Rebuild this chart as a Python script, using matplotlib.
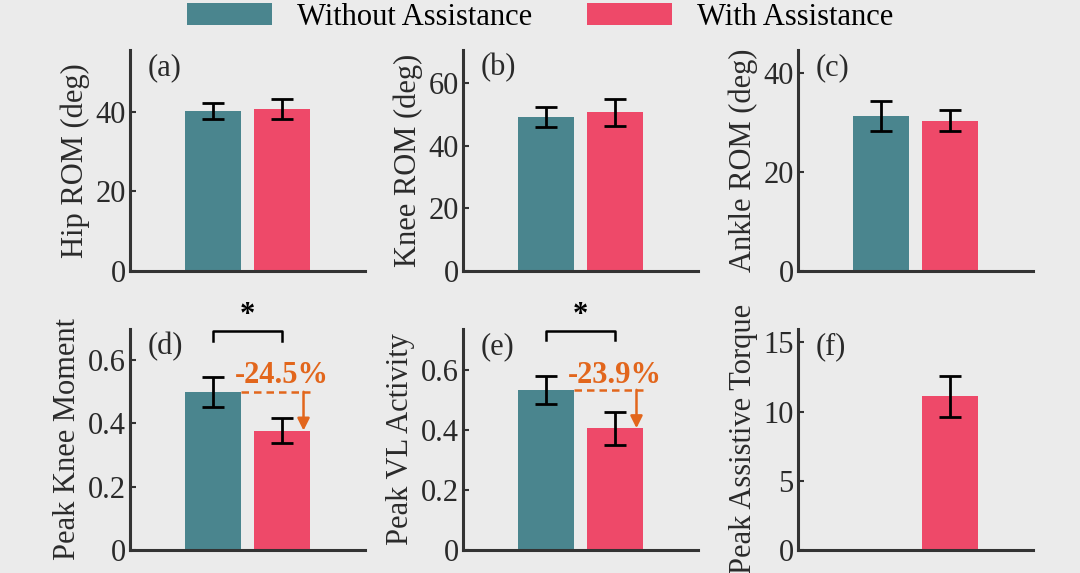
import matplotlib
matplotlib.use("Agg")
import matplotlib.pyplot as plt
from matplotlib.patches import Patch

plt.rcParams['font.family'] = ['Liberation Serif', 'DejaVu Serif']

teal = '#4a858e'
red = '#ee4969'
orange = '#e2661c'
bg = '#ebebeb'
dark = '#333333'

labels = ['Without Assistance', 'With Assistance']
panel_tags = ['(a)', '(b)', '(c)', '(d)', '(e)', '(f)']
ylabels = ['Hip ROM (deg)', 'Knee ROM (deg)', 'Ankle ROM (deg)',
           'Peak Knee Moment', 'Peak VL Activity', 'Peak Assistive Torque']

# means / std per panel: [without, with]
means = [[40.2, 40.7], [49.2, 50.6], [31.3, 30.3],
         [0.50, 0.3775], [0.535, 0.407], [None, 11.1]]
errs = [[2.0, 2.5], [3.3, 4.2], [3.1, 2.1],
        [0.047, 0.039], [0.047, 0.055], [None, 1.5]]
ylims = [55.6, 70.7, 44.7, 0.70, 0.74, 16.0]
yticks = [[0, 20, 40], [0, 20, 40, 60], [0, 20, 40],
          [0, 0.2, 0.4, 0.6], [0, 0.2, 0.4, 0.6], [0, 5, 10, 15]]
ytl = [['0', '20', '40'], ['0', '20', '40', '60'], ['0', '20', '40'],
       ['0', '0.2', '0.4', '0.6'], ['0', '0.2', '0.4', '0.6'], ['0', '5', '10', '15']]
changes = {3: '-24.5%', 4: '-23.9%'}
star_y = {3: 0.692, 4: 0.733}
leg_drop = {3: 0.032, 4: 0.033}
pct_y = {3: 0.55, 4: 0.583}

fs = 22

fig = plt.figure(figsize=(10.8, 5.73), dpi=100, facecolor=bg)

lefts = [0.1204, 0.4287, 0.7389]
bottoms = [0.527, 0.0401]
w, h = 0.2176, 0.3866

for i in range(6):
    ax = fig.add_axes([lefts[i % 3], bottoms[i // 3], w, h])
    ax.set_facecolor(bg)
    xs = [1, 2]
    for j in range(2):
        if means[i][j] is None:
            continue
        ax.bar(xs[j], means[i][j], width=0.8, color=[teal, red][j], zorder=2)
        ax.errorbar(xs[j], means[i][j], yerr=errs[i][j], color='black',
                    capsize=8, capthick=2, elinewidth=2, zorder=3)
    ax.set_xlim(-0.2, 3.2)
    ax.set_ylim(0, ylims[i])
    ax.set_yticks(yticks[i])
    ax.set_yticklabels(ytl[i])
    ax.set_xticks([2] if i == 5 else [1, 2])
    ax.set_xticklabels([])
    ax.tick_params(direction='in', length=4, width=1.5, colors=dark,
                   labelsize=fs, labelcolor='#2a2a2a', pad=3)
    for s in ['top', 'right']:
        ax.spines[s].set_visible(False)
    for s in ['left', 'bottom']:
        ax.spines[s].set_linewidth(2.2)
        ax.spines[s].set_color(dark)
    ax.set_ylabel(ylabels[i], fontsize=fs, color='#2a2a2a', labelpad=4)
    ax.text(0.076, 0.92, panel_tags[i], transform=ax.transAxes,
            fontsize=fs, color='#2a2a2a', ha='left', va='center')

    if i in changes:
        m0, m1 = means[i]
        top = ylims[i]
        sy = star_y[i]
        ax.plot([1, 1, 2, 2], [sy - leg_drop[i], sy, sy, sy - leg_drop[i]],
                color='black', lw=1.8, clip_on=False)
        ax.text(1.5, sy + 0.003 * top / 0.7, '*', fontsize=fs, ha='center',
                va='bottom', fontweight='bold', clip_on=False)
        ax.plot([1.4, 2.4], [m0, m0], color=orange, lw=1.8, ls=(0, (3, 2)))
        ax.annotate('', xy=(2.31, m1), xytext=(2.31, m0),
                    arrowprops=dict(arrowstyle='-|>', color=orange, lw=1.8,
                                    mutation_scale=18, shrinkA=0, shrinkB=0))
        ax.text(2.0, pct_y[i], changes[i], color=orange, fontsize=fs,
                fontweight='bold', ha='center', va='center')

handles = [Patch(facecolor=teal, label=labels[0]),
           Patch(facecolor=red, label=labels[1])]
fig.legend(handles=handles, loc='center', bbox_to_anchor=(0.5, 0.97), ncol=2,
           frameon=False, fontsize=fs, handlelength=2.78, handleheight=0.72,
           handletextpad=0.82, columnspacing=1.8, borderaxespad=0)

fig.savefig('out.png', dpi=100, facecolor=bg)
